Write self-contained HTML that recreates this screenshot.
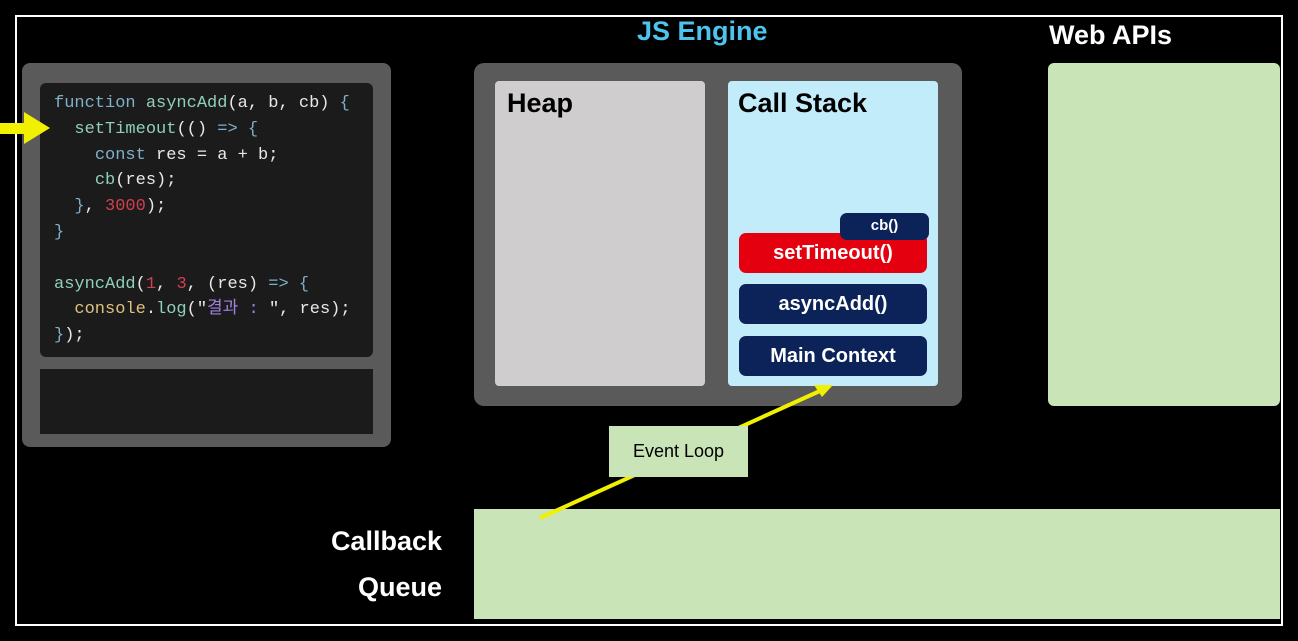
<!DOCTYPE html>
<html><head><meta charset="utf-8"><style>
body{margin:0;width:1298px;height:641px;background:#000;position:relative;overflow:hidden;font-family:"Liberation Sans","Noto Sans CJK KR",sans-serif}
div{position:absolute;box-sizing:border-box}
.frame{left:15px;top:15px;width:1268px;height:611px;border:2px solid #fff}
.code{left:40px;top:83px;width:333px;height:274px;background:#1b1b1b;border-radius:6px}
pre{position:absolute;margin:0;left:54px;top:91px;font-family:"Liberation Mono","Noto Sans CJK KR",monospace;font-size:17px;line-height:25.8px;color:#e8e8e8}
.k{color:#7fb0c8}.f{color:#8fd0b8}.n{color:#d04050}.y{color:#e0c080}.s{color:#a080e0}
.t{color:#fff;font-weight:bold;font-size:27px}
.frm{left:739px;width:188px;height:40px;border-radius:7px;background:#0b2358;color:#fff;font-weight:bold;font-size:20px;text-align:center;line-height:40px}
</style></head><body>
<div class="frame"></div>
<div style="left:22px;top:63px;width:369px;height:384px;background:#5a5a5a;border-radius:8px"></div>
<div class="code"></div>
<div style="left:40px;top:369px;width:333px;height:65px;background:#1b1b1b"></div>
<pre><span class="k">function</span> <span class="f">asyncAdd</span>(a, b, cb) <span class="k">{</span>
  <span class="f">setTimeout</span>(() <span class="k">=&gt; {</span>
    <span class="k">const</span> res = a + b;
    <span class="f">cb</span>(res);
  <span class="k">}</span>, <span class="n">3000</span>);
<span class="k">}</span>

<span class="f">asyncAdd</span>(<span class="n">1</span>, <span class="n">3</span>, (res) <span class="k">=&gt; {</span>
  <span class="y">console</span>.<span class="f">log</span>("<span class="s">결과 : </span>", res);
<span class="k">}</span>);</pre>
<svg style="position:absolute;left:0;top:110px" width="52" height="38"><rect x="0" y="13" width="26" height="11" fill="#f0f000"/><polygon points="24,2 50,18 24,34" fill="#f0f000"/></svg>
<div class="t" style="left:637px;top:16px;color:#4cc4ee">JS Engine</div>
<div class="t" style="left:1049px;top:20px">Web APIs</div>
<div style="left:474px;top:63px;width:488px;height:343px;background:#5a5a5a;border-radius:10px"></div>
<div style="left:495px;top:81px;width:210px;height:305px;background:#cfcdcd;border-radius:4px"></div>
<div class="t" style="left:507px;top:88px;color:#000">Heap</div>
<div style="left:728px;top:81px;width:210px;height:305px;background:#c2ecfa;border-radius:4px"></div>
<div class="t" style="left:738px;top:88px;color:#000">Call Stack</div>
<div class="frm" style="top:233px;background:#e50010">setTimeout()</div>
<div class="frm" style="left:840px;top:213px;width:89px;height:27px;line-height:26px;font-size:15px">cb()</div>
<div class="frm" style="top:284px">asyncAdd()</div>
<div class="frm" style="top:336px">Main Context</div>
<div style="left:1048px;top:63px;width:232px;height:343px;background:#c9e4b6;border-radius:6px"></div>
<div style="left:474px;top:509px;width:806px;height:110px;background:#c9e4b6"></div>
<div class="t" style="left:322px;top:518px;text-align:right;width:120px;line-height:46px">Callback<br>Queue</div>
<svg style="position:absolute;left:0;top:0" width="1298" height="641"><line x1="540" y1="518" x2="822" y2="390" stroke="#f0f000" stroke-width="4"/><polygon points="833,385 814,385 822,397" fill="#f0f000"/></svg>
<div style="left:609px;top:426px;width:139px;height:51px;background:#c9e4b6;text-align:center;line-height:51px;font-size:18px;color:#000">Event Loop</div>
</body></html>
